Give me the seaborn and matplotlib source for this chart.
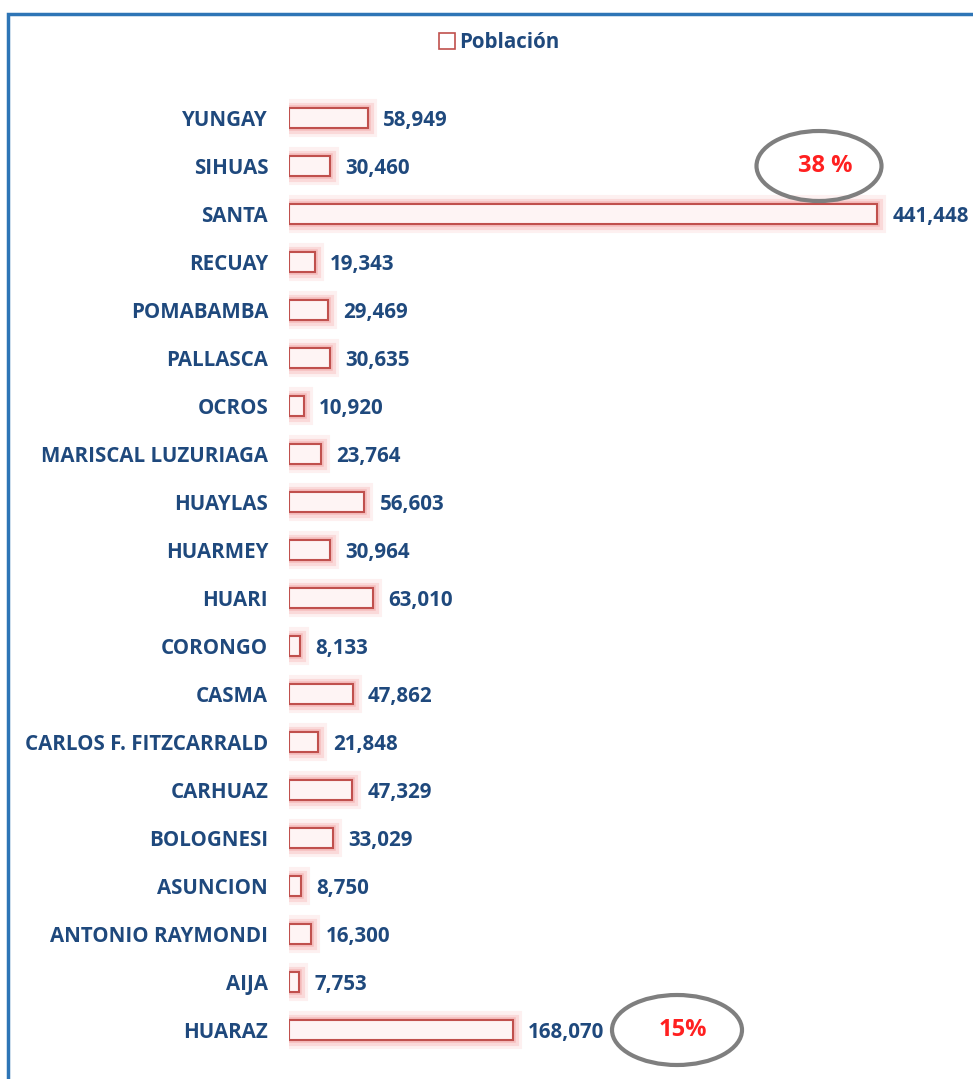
import matplotlib
matplotlib.use("Agg")
import matplotlib.pyplot as plt
import matplotlib.patheffects as pe
from matplotlib.patches import Ellipse, Patch, Rectangle
import seaborn as sns
import pandas as pd

# data (top to bottom as shown)
provincias = ["YUNGAY", "SIHUAS", "SANTA", "RECUAY", "POMABAMBA", "PALLASCA",
              "OCROS", "MARISCAL LUZURIAGA", "HUAYLAS", "HUARMEY", "HUARI",
              "CORONGO", "CASMA", "CARLOS F. FITZCARRALD", "CARHUAZ",
              "BOLOGNESI", "ASUNCION", "ANTONIO RAYMONDI", "AIJA", "HUARAZ"]
poblacion = [58949, 30460, 441448, 19343, 29469, 30635, 10920, 23764, 56603,
             30964, 63010, 8133, 47862, 21848, 47329, 33029, 8750, 16300,
             7753, 168070]
notas = ["38 %", "15%"]
notas_prov = ["SIHUAS", "HUARAZ"]

NAVY = "#1f497d"
EDGE = "#c0504d"
FS = 14.8

sns.set_style("white")
plt.rcParams["font.family"] = ["Open Sans", "DejaVu Sans"]

df = pd.DataFrame({"provincia": provincias, "poblacion": poblacion})

fig = plt.figure(figsize=(9.73, 10.79), dpi=100)
W, H = 973, 1079
ax = fig.add_axes([289 / W, 1 - 1054 / H, (W - 289) / W, 960 / H])

sns.barplot(data=df, y="provincia", x="poblacion", order=provincias, ax=ax,
            color="#fff3f3", edgecolor=EDGE, linewidth=1.5, width=0.42,
            orient="h")

# soft pink glow around each bar
glow = [pe.Stroke(linewidth=13, foreground="#fbd0d0", alpha=0.3),
        pe.Stroke(linewidth=8, foreground="#f5b0b0", alpha=0.35),
        pe.Stroke(linewidth=4, foreground="#ee9494", alpha=0.4),
        pe.Normal()]
for p in ax.patches:
    p.set_path_effects(glow)

vals = ax.bar_label(ax.containers[0], labels=[f"{v:,}" for v in poblacion],
                    padding=11, color=NAVY, fontsize=FS, fontweight="bold")
for t in vals:
    t.set_va("center_baseline")

ax.set_xlim(0, 441448 * (W - 289) / 588)
ax.set_ylim(len(provincias) - 0.5, -0.5)
ax.set_xlabel("")
ax.set_ylabel("")
ax.set_xticks([])
for s in ax.spines.values():
    s.set_visible(False)
ax.tick_params(axis="y", length=0, pad=15)
for t in ax.get_yticklabels():
    t.set_color(NAVY)
    t.set_fontweight("bold")
    t.set_fontsize(FS)

# circled percentage notes
px = 441448 / 588  # data units per pixel
for txt, prov, cx, w in zip(notas, notas_prov, [819, 677], [125, 130]):
    yi = provincias.index(prov)
    xc = (cx - 289) * px
    ax.add_patch(Ellipse((xc, yi), w * px, 70 / 48, fill=False,
                         edgecolor="#7f7f7f", linewidth=3, clip_on=False))
    ax.text(xc + 6 * px, yi, txt, color="#ff2020", fontsize=17,
            fontweight="bold", ha="center", va="center")

# legend
h = Patch(facecolor="white", edgecolor=EDGE, linewidth=1.2)
fig.legend(handles=[h], labels=["Población"], loc="center",
           bbox_to_anchor=(499 / W, 1 - 43 / H), frameon=False,
           handlelength=0.8, handleheight=0.8, handletextpad=0.2,
           prop={"weight": "bold", "size": FS}, labelcolor=NAVY)

# blue chart border (left and top)
fig.add_artist(Rectangle((8 / W, -0.1), 1.2, 1.1 - 14 / H,
                         transform=fig.transFigure, fill=False,
                         edgecolor="#2e75b6", linewidth=2.5))

fig.savefig("out.png", dpi=100)
